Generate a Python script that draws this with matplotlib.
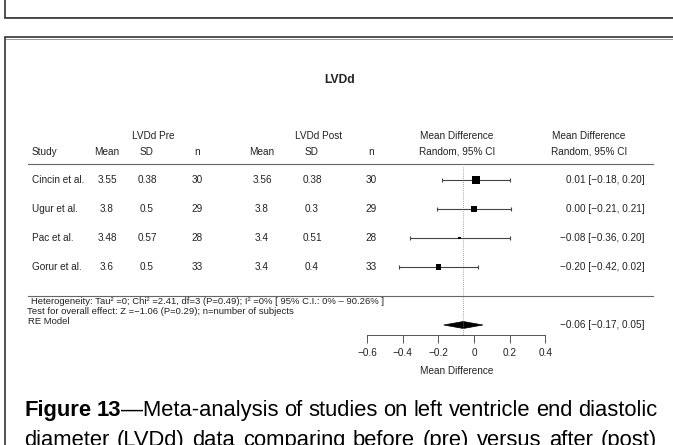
import numpy as np
import matplotlib
matplotlib.use("Agg")
import matplotlib.pyplot as plt
from matplotlib.patches import Polygon

plt.rcParams['font.family'] = ['Liberation Sans', 'DejaVu Sans']

# Data
title = "LVDd"
studies = ["Cincin et al.", "Ugur et al.", "Pac et al.", "Gorur et al."]
pre_mean = [3.55, 3.8, 3.48, 3.6]
pre_sd = [0.38, 0.5, 0.57, 0.5]
pre_n = [30, 29, 28, 33]
post_mean = [3.56, 3.8, 3.4, 3.4]
post_sd = [0.38, 0.3, 0.51, 0.4]
post_n = [30, 29, 28, 33]
md = [0.01, 0.00, -0.08, -0.20]
ci_lo = [-0.18, -0.21, -0.36, -0.42]
ci_hi = [0.20, 0.21, 0.20, 0.02]
weights = [34, 29, 12, 25]  # relative square sizes
re_est, re_lo, re_hi = -0.06, -0.17, 0.05
xticks = [-0.6, -0.4, -0.2, 0, 0.2, 0.4]
heterogeneity = "Heterogeneity: Tau² =0; Chi² =2.41, df=3 (P=0.49); I² =0% [ 95% C.I.: 0% – 90.26% ]"
overall = "Test for overall effect: Z =−1.06 (P=0.29); n=number of subjects"
caption_1 = [[("Figure", "bold")], [("13", "bold"), ("—Meta-analysis", "normal")],
             "of", "studies", "on", "left", "ventricle", "end", "diastolic"]
caption_2 = "diameter (LVDd) data comparing before (pre) versus after (post)".split()


def fmt(v):
    return f"{v:.2f}".replace("-", "−")


W, H = 673, 445
X0 = 474      # pixel of zero on the forest scale
PXU = 178     # pixels per unit of mean difference
ROW0, ROWH = 180, 29
FS = 7.2
TXT = '#222222'

fig = plt.figure(figsize=(W / 100, H / 100), dpi=100)

# pixel-space background axes for frames and table
bg = fig.add_axes([0, 0, 1, 1])
bg.set_xlim(0, W)
bg.set_ylim(H, 0)
bg.axis('off')

# page frames
dark, light = '#333333', '#999999'
bg.plot([5, 5], [0, 18], color=dark, lw=1.2, solid_capstyle='butt')
bg.plot([5, W], [17, 17], color=light, lw=0.7)
bg.plot([5, W], [18.3, 18.3], color=dark, lw=1.2)
bg.plot([5, W], [37.3, 37.3], color=dark, lw=1.2)
bg.plot([6, W], [38.7, 38.7], color=light, lw=0.7)
bg.plot([5, 5], [37, H], color=dark, lw=1.2, solid_capstyle='butt')

# title
bg.text(340, 80, title, ha='center', va='center', fontsize=8.7, fontweight='bold', color=TXT)

# headers
col_x = [107, 147, 197, 262, 312, 371]
bg.text(153, 136, "LVDd Pre", ha='center', va='center', fontsize=FS, color=TXT)
bg.text(319, 136, "LVDd Post", ha='center', va='center', fontsize=FS, color=TXT)
bg.text(32, 152, "Study", ha='left', va='center', fontsize=FS, color=TXT)
for x, lab in zip(col_x, ["Mean", "SD", "n", "Mean", "SD", "n"]):
    bg.text(x, 152, lab, ha='center', va='center', fontsize=FS, color=TXT)
for x in (457, 589):
    bg.text(x, 136, "Mean Difference", ha='center', va='center', fontsize=FS, color=TXT)
    bg.text(x, 152, "Random, 95% CI", ha='center', va='center', fontsize=FS, color=TXT)

bg.plot([28, 653], [164, 164], color='#666666', lw=0.8)
bg.plot([28, 653], [296, 296], color='#666666', lw=0.8)

# table rows
for i, name in enumerate(studies):
    y = ROW0 + i * ROWH
    bg.text(32, y, name, ha='left', va='center', fontsize=FS, color=TXT)
    vals = [pre_mean[i], pre_sd[i], pre_n[i], post_mean[i], post_sd[i], post_n[i]]
    for x, v in zip(col_x, vals):
        bg.text(x, y, str(v), ha='center', va='center', fontsize=FS, color=TXT)
    bg.text(645, y, f"{fmt(md[i])} [{fmt(ci_lo[i])}, {fmt(ci_hi[i])}]",
            ha='right', va='center', fontsize=FS, color=TXT)

# summary text
bg.text(31, 302, heterogeneity, ha='left', va='center', fontsize=6.8, color=TXT)
bg.text(27, 311, overall, ha='left', va='center', fontsize=6.8, color=TXT)
bg.text(28, 321, "RE Model", ha='left', va='center', fontsize=6.8, color=TXT)
bg.text(645, 325, f"{fmt(re_est)} [{fmt(re_lo)}, {fmt(re_hi)}]",
        ha='right', va='center', fontsize=FS, color=TXT)

# forest axes in mean-difference units
fa = fig.add_axes([0, 0, 1, 1])
fa.patch.set_alpha(0)
fa.set_xlim(-X0 / PXU, (W - X0) / PXU)
fa.set_ylim((H - ROW0) / ROWH, -ROW0 / ROWH)
rows = np.arange(len(studies))
axis_y = (335 - ROW0) / ROWH
re_row = (325 - ROW0) / ROWH

fa.vlines(re_est, (167 - ROW0) / ROWH, axis_y, colors='#888888', linestyles=(0, (1, 1.5)), lw=0.6)
fa.hlines(rows, ci_lo, ci_hi, colors='#444444', lw=0.8)
cap = 2 / ROWH
fa.vlines(ci_lo, rows - cap, rows + cap, colors='#444444', lw=0.8)
fa.vlines(ci_hi, rows - cap, rows + cap, colors='#444444', lw=0.8)
sizes_pt = 7.5 * np.array(weights) / max(weights) * 0.72
fa.scatter(md, rows, marker='s', s=sizes_pt ** 2, color='black', zorder=3, linewidths=0)

dh = 3.5 / ROWH
fa.add_patch(Polygon([(re_lo, re_row), (re_est, re_row - dh), (re_hi, re_row), (re_est, re_row + dh)],
                     closed=True, facecolor='black', edgecolor='black', lw=0.5))

for s in ('top', 'left', 'right'):
    fa.spines[s].set_visible(False)
fa.spines['bottom'].set_position(('data', axis_y))
fa.spines['bottom'].set_bounds(xticks[0], xticks[-1])
fa.spines['bottom'].set_color('#555555')
fa.spines['bottom'].set_linewidth(0.7)
fa.set_yticks([])
fa.set_xticks(xticks)
fa.set_xticklabels([f"{t:g}".replace("-", "−") for t in xticks])
fa.tick_params(axis='x', direction='out', length=5.5, width=0.7, color='#555555',
               labelcolor=TXT, labelsize=FS, pad=4)
fa.text((xticks[0] + xticks[-1]) / 2, (371 - ROW0) / ROWH, "Mean Difference",
        ha='center', va='center', fontsize=FS, color=TXT)

# justified caption
renderer = fig.canvas.get_renderer()


def justified(words, y, x0=24, x1=657, size=15.8):
    items = []
    total = 0
    for word in words:
        if isinstance(word, str):
            word = [(word, "normal")]
        parts = []
        wsum = 0
        for txt, wt in word:
            t = bg.text(0, y, txt, fontsize=size, fontweight=wt, va='baseline', ha='left', color='black')
            w = t.get_window_extent(renderer).width
            parts.append((t, w))
            wsum += w
        items.append(parts)
        total += wsum
    gap = (x1 - x0 - total) / (len(items) - 1)
    x = x0
    for parts in items:
        for t, w in parts:
            t.set_x(x)
            x += w
        x += gap


justified(caption_1, 416)
justified(caption_2, 446)

fig.savefig('out.png', dpi=100)
